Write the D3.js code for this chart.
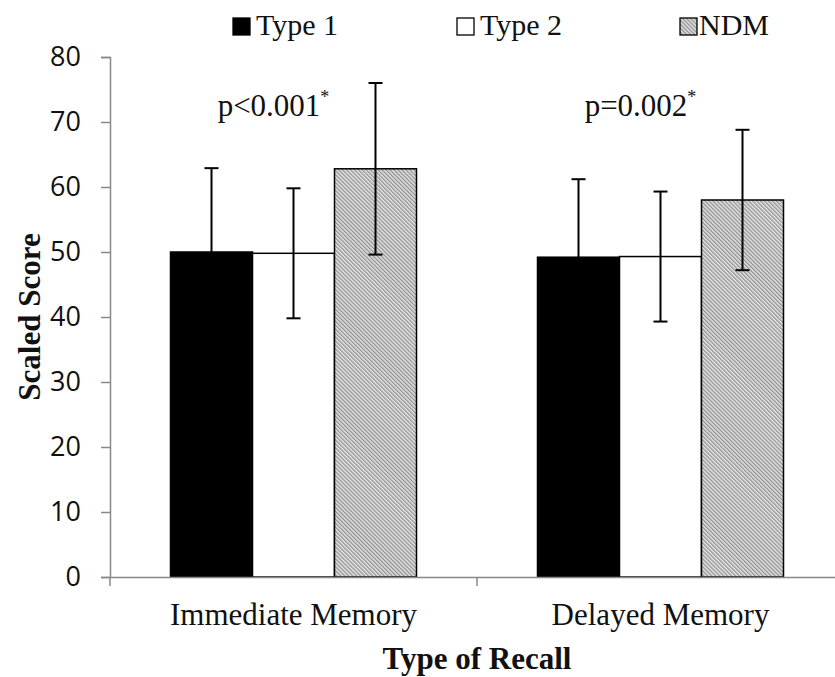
<!DOCTYPE html>
<html>
<head>
<meta charset="utf-8">
<script src="https://cdn.jsdelivr.net/npm/d3@7"></script>
<style>
  body { margin: 0; background: #fff; }
  svg { display: block; }
</style>
</head>
<body>
<div id="plot"></div>
<script>
// data
var categories = ["Immediate Memory", "Delayed Memory"];
var groups = ["Type 1", "Type 2", "NDM"];
var means = {
     "Type 1": [50.0, 49.2],
     "Type 2": [49.8, 49.3],
     "NDM":    [62.8, 58.0]
};
var sds = {
     "Type 1": [12.9, 12.0],
     "Type 2": [10.0, 10.0],
     "NDM":    [13.2, 10.8]
};
var pLabels = ["p<0.001", "p=0.002"];
var yTicks = [0, 10, 20, 30, 40, 50, 60, 70, 80];

var width = 835, height = 677;
const margin = {top: 57, right: -9, bottom: 100, left: 110};
var chartWidth = width - margin.left - margin.right;
var chartHeight = height - margin.top - margin.bottom;

var serif = "'Liberation Serif', 'Times New Roman', serif";
var sans = "'Open Sans', 'Noto Sans', sans-serif";

var root = d3.select("#plot")
     .append("svg")
     .attr("width", width)
     .attr("height", height);

// hatch pattern for NDM
var defs = root.append("defs");
var pat = defs.append("pattern")
     .attr("id", "hatch")
     .attr("patternUnits", "userSpaceOnUse")
     .attr("width", 2.8)
     .attr("height", 2.8)
     .attr("patternTransform", "rotate(-45)");
pat.append("rect").attr("width", 2.8).attr("height", 2.8).attr("fill", "#e6e6e6");
pat.append("line")
     .attr("x1", 0.7).attr("x2", 0.7).attr("y1", 0).attr("y2", 2.8)
     .attr("stroke", "#808080").attr("stroke-width", 1.1);

var fills = {"Type 1": "#000", "Type 2": "#fff", "NDM": "url(#hatch)"};

var svg = root.append("g")
     .attr("transform", "translate(" + margin.left + "," + margin.top + ")");

var x0 = d3.scaleBand()
     .domain(categories)
     .range([0, chartWidth])
     .paddingInner(0)
     .paddingOuter(0);

// inner scale: bars fill 246 of 367 px per category
var x1 = d3.scaleBand()
     .domain(groups)
     .range([60.5, x0.bandwidth() - 60.5]);

var y = d3.scaleLinear()
     .domain([0, 80])
     .range([chartHeight, 0]);

// y axis
var yAxis = svg.append("g")
     .call(d3.axisLeft(y).tickValues(yTicks).tickSize(9).tickPadding(20));
yAxis.select(".domain").attr("stroke", "#888").attr("stroke-width", 1.5);
yAxis.selectAll(".tick line").attr("stroke", "#888").attr("stroke-width", 1.5);
yAxis.selectAll("text")
     .style("font-family", sans)
     .style("font-size", "27px")
     .attr("fill", "#111");

// bars
var rows = [];
categories.forEach(function(c, i) {
     groups.forEach(function(g) {
          rows.push({cat: c, group: g, mean: means[g][i], sd: sds[g][i]});
     });
});

var bar = svg.selectAll(".bar")
     .data(rows)
     .enter()
     .append("g")
     .attr("class", "bar")
     .attr("transform", function(d) { return "translate(" + x0(d.cat) + ",0)"; });

bar.append("rect")
     .attr("x", function(d) { return x1(d.group); })
     .attr("y", function(d) { return y(d.mean); })
     .attr("width", x1.bandwidth())
     .attr("height", function(d) { return chartHeight - y(d.mean); })
     .attr("fill", function(d) { return fills[d.group]; })
     .attr("stroke", "#000")
     .attr("stroke-width", 1.5);

// x axis (drawn over the bar bottoms)
var xAxis = svg.append("g")
     .attr("transform", "translate(0," + chartHeight + ")")
     .call(d3.axisBottom(x0).tickSize(0).tickPadding(26));
xAxis.select(".domain").attr("stroke", "#888").attr("stroke-width", 1.5);
xAxis.selectAll("text")
     .style("font-family", serif)
     .style("font-size", "31px")
     .attr("fill", "#111");
// category boundary ticks
svg.selectAll(".xb")
     .data([0, 1, 2])
     .enter()
     .append("line")
     .attr("x1", function(d) { return d * x0.bandwidth(); })
     .attr("x2", function(d) { return d * x0.bandwidth(); })
     .attr("y1", chartHeight)
     .attr("y2", chartHeight + 9)
     .attr("stroke", "#888")
     .attr("stroke-width", 1.5);

// error bars
var cap = 7;
var eb = bar.append("g")
     .attr("stroke", "#000")
     .attr("stroke-width", 2);
eb.append("line")
     .attr("x1", function(d) { return x1(d.group) + x1.bandwidth() / 2; })
     .attr("x2", function(d) { return x1(d.group) + x1.bandwidth() / 2; })
     .attr("y1", function(d) { return y(d.mean + d.sd); })
     .attr("y2", function(d) { return y(d.mean - d.sd); });
eb.append("line")
     .attr("x1", function(d) { return x1(d.group) + x1.bandwidth() / 2 - cap; })
     .attr("x2", function(d) { return x1(d.group) + x1.bandwidth() / 2 + cap; })
     .attr("y1", function(d) { return y(d.mean + d.sd); })
     .attr("y2", function(d) { return y(d.mean + d.sd); });
eb.append("line")
     .attr("x1", function(d) { return x1(d.group) + x1.bandwidth() / 2 - cap; })
     .attr("x2", function(d) { return x1(d.group) + x1.bandwidth() / 2 + cap; })
     .attr("y1", function(d) { return y(d.mean - d.sd); })
     .attr("y2", function(d) { return y(d.mean - d.sd); });

// p-value annotations
var pText = svg.selectAll(".pval")
     .data(categories)
     .enter()
     .append("text")
     .attr("class", "pval")
     .attr("x", function(d) { return x0(d) + x0.bandwidth() / 2 - 20; })
     .attr("y", 59)
     .attr("text-anchor", "middle")
     .style("font-family", serif)
     .style("font-size", "31px")
     .attr("fill", "#111");
pText.append("tspan").text(function(d, i) { return pLabels[i]; });
pText.append("tspan")
     .attr("dy", -13)
     .style("font-size", "18px")
     .text("*");

// axis titles
root.append("text")
     .attr("x", margin.left + x0.bandwidth())
     .attr("y", 669)
     .attr("text-anchor", "middle")
     .style("font-family", serif)
     .style("font-size", "31px")
     .style("font-weight", "bold")
     .attr("fill", "#111")
     .text("Type of Recall");

root.append("text")
     .attr("transform", "translate(40," + (margin.top + y(40)) + ") rotate(-90)")
     .attr("text-anchor", "middle")
     .style("font-family", serif)
     .style("font-size", "31px")
     .style("font-weight", "bold")
     .attr("fill", "#111")
     .text("Scaled Score");

// legend
var legendX = [232, 456, 679];
var leg = root.selectAll(".legend")
     .data(groups)
     .enter()
     .append("g")
     .attr("class", "legend")
     .attr("transform", function(d, i) { return "translate(" + legendX[i] + ",0)"; });
leg.append("rect")
     .attr("x", 1)
     .attr("y", 18)
     .attr("width", 17)
     .attr("height", 17)
     .attr("fill", function(d) { return fills[d]; })
     .attr("stroke", "#000")
     .attr("stroke-width", 1.3);
leg.append("text")
     .attr("x", function(d, i) { return i == 2 ? 20 : 24; })
     .attr("y", 35)
     .style("font-family", serif)
     .style("font-size", "30px")
     .attr("fill", "#111")
     .text(function(d) { return d; });
</script>
</body>
</html>
